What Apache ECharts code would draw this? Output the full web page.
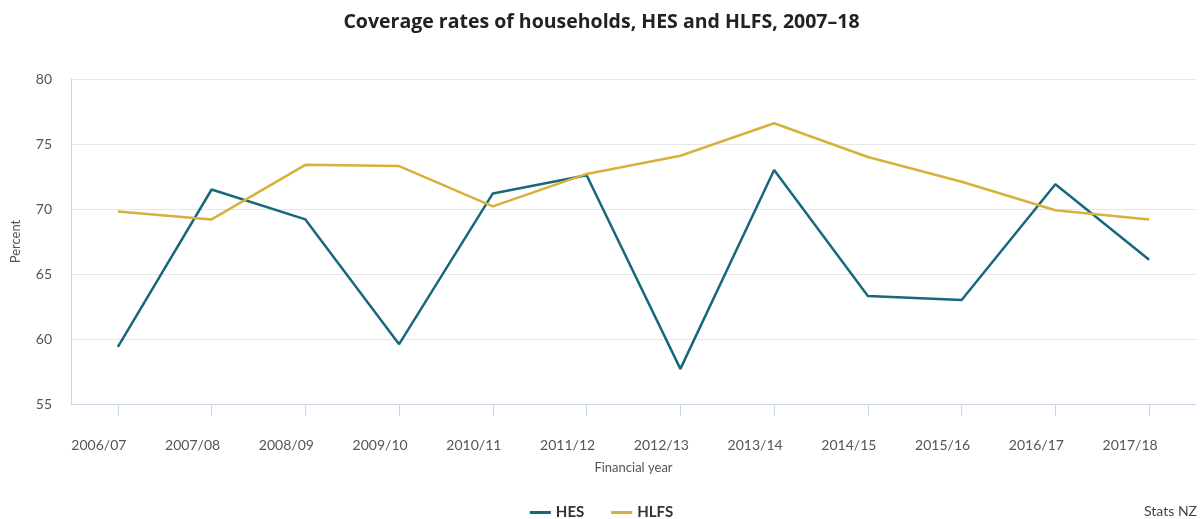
<!DOCTYPE html>
<html>
<head>
<meta charset="utf-8">
<script src="https://cdn.jsdelivr.net/npm/echarts@6/dist/echarts.min.js"></script>
<style>
  html, body { margin: 0; padding: 0; background: #fff; }
  #chart { width: 1203px; height: 519px; }
</style>
</head>
<body>
<div id="chart"></div>
<script>
// Financial years on the x axis
const years = ['2006/07', '2007/08', '2008/09', '2009/10', '2010/11', '2011/12',
               '2012/13', '2013/14', '2014/15', '2015/16', '2016/17', '2017/18'];
// Household coverage rates (percent)
const hes  = [59.4, 71.5, 69.2, 59.6, 71.2, 72.6, 57.7, 73.0, 63.3, 63.0, 71.9, 66.1];
const hlfs = [69.8, 69.2, 73.4, 73.3, 70.2, 72.7, 74.1, 76.6, 74.0, 72.1, 69.9, 69.2];
const yTicks = [55, 60, 65, 70, 75, 80];

const FONT = 'Lato, "Open Sans", sans-serif';
const chart = echarts.init(document.getElementById('chart'));

chart.setOption({
  animation: false,
  backgroundColor: '#ffffff',
  textStyle: { fontFamily: FONT },
  title: [{
    text: 'Coverage rates of households, HES and HLFS, 2007\u201318',
    left: 'center',
    top: 7,
    textStyle: { fontFamily: '"Open Sans", sans-serif', fontSize: 19.5, fontWeight: 'bold', color: '#222222' }
  }, {
    text: 'Stats NZ',
    right: 6,
    top: 504,
    padding: [0, 0, 0, 0],
    textStyle: { fontFamily: FONT, fontSize: 14, fontWeight: 'normal', color: '#444444' }
  }],
  legend: {
    top: 500,
    left: 'center',
    itemWidth: 21,
    itemHeight: 3,
    itemGap: 27,
    icon: 'rect',
    textStyle: { fontFamily: FONT, fontSize: 15, fontWeight: 'bold', color: '#333333' },
    data: ['HES', 'HLFS']
  },
  grid: { left: 71, right: 7, top: 79, bottom: 115, containLabel: false },
  xAxis: {
    type: 'category',
    data: years,
    boundaryGap: true,
    name: 'Financial year',
    nameLocation: 'middle',
    nameGap: 57,
    nameTextStyle: { fontFamily: FONT, fontSize: 13, color: '#555555' },
    axisLine: { show: true, lineStyle: { color: '#ccd6eb', width: 1 } },
    axisTick: { show: true, alignWithLabel: true, length: 12, lineStyle: { color: '#ccd6eb' } },
    // labels sit a little to the left of their ticks
    axisLabel: { margin: 34, fontFamily: FONT, fontSize: 14, color: '#555555', padding: [0, 38, 0, 0] },
    splitLine: { show: false }
  },
  yAxis: {
    type: 'value',
    min: yTicks[0],
    max: yTicks[yTicks.length - 1],
    interval: 5,
    name: 'Percent',
    nameLocation: 'middle',
    nameGap: 49,
    nameRotate: 90,
    nameTextStyle: { fontFamily: FONT, fontSize: 13, color: '#555555' },
    axisLine: { show: true, lineStyle: { color: '#ccd6eb', width: 1 } },
    axisTick: { show: false },
    axisLabel: { margin: 19, fontFamily: FONT, fontSize: 14, color: '#555555' },
    splitLine: { show: true, lineStyle: { color: '#e6e6e6', width: 1 } }
  },
  series: [{
    name: 'HES',
    type: 'line',
    data: hes,
    symbol: 'none',
    color: '#17687d',
    lineStyle: { color: '#17687d', width: 2.5 }
  }, {
    name: 'HLFS',
    type: 'line',
    data: hlfs,
    symbol: 'none',
    color: '#d6b13c',
    lineStyle: { color: '#d6b13c', width: 2.5 }
  }]
});
</script>
</body>
</html>
